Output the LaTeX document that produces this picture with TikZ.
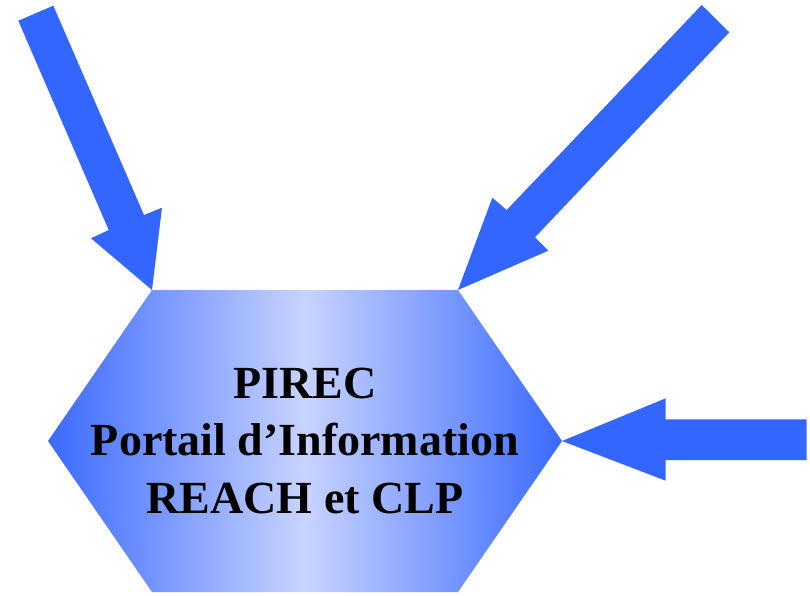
\documentclass[tikz,border=0pt]{standalone}
\usepackage{fontspec}
\setmainfont{Liberation Serif}
\definecolor{arrowblue}{HTML}{3366FF}
\definecolor{edgeblue}{HTML}{3A6AFF}
\definecolor{paleblue}{HTML}{C8D3FF}
\tikzset{
  blockarrow/.style={fill=arrowblue, draw=none},
  hexshape/.style={draw=none, left color=edgeblue, right color=edgeblue, middle color=paleblue},
  hextext/.style={align=center, inner sep=0pt, font=\bfseries\fontsize{46}{57.5}\selectfont, text=black}
}
\begin{document}
\begin{tikzpicture}[x=1pt,y=-1pt]
\useasboundingbox (0,0) rectangle (810,596);
% hexagon
\coordinate (htl) at (152,290);
\coordinate (htr) at (458,290);
\coordinate (hr) at (562,441);
\coordinate (hbr) at (458,592);
\coordinate (hbl) at (152,592);
\coordinate (hl) at (48,441);
\path[hexshape] (htl) -- (htr) -- (hr) -- (hbr) -- (hbl) -- (hl) -- cycle;
\node[hextext] (pirec) at (305,440.5) {PIREC\\Portail d’Information\\REACH et CLP};
% left arrow
\fill[blockarrow] (18.3,20.7) -- (53.3,5.7) -- (144,215) -- (162,207.7) -- (htl) -- (91,238.3) -- (108.7,230) -- cycle;
% top-right arrow
\fill[blockarrow] (701.7,5) -- (729.3,32.3) -- (535,237.3) -- (548.3,250.7) -- (htr) -- (492.3,197.7) -- (506.7,210) -- cycle;
% right arrow
\fill[blockarrow] (hr) -- (665.7,398.3) -- (665.7,419.3) -- (806.5,419.3) -- (806.5,460) -- (665.7,460) -- (665.7,480.7) -- cycle;
\end{tikzpicture}
\end{document}
